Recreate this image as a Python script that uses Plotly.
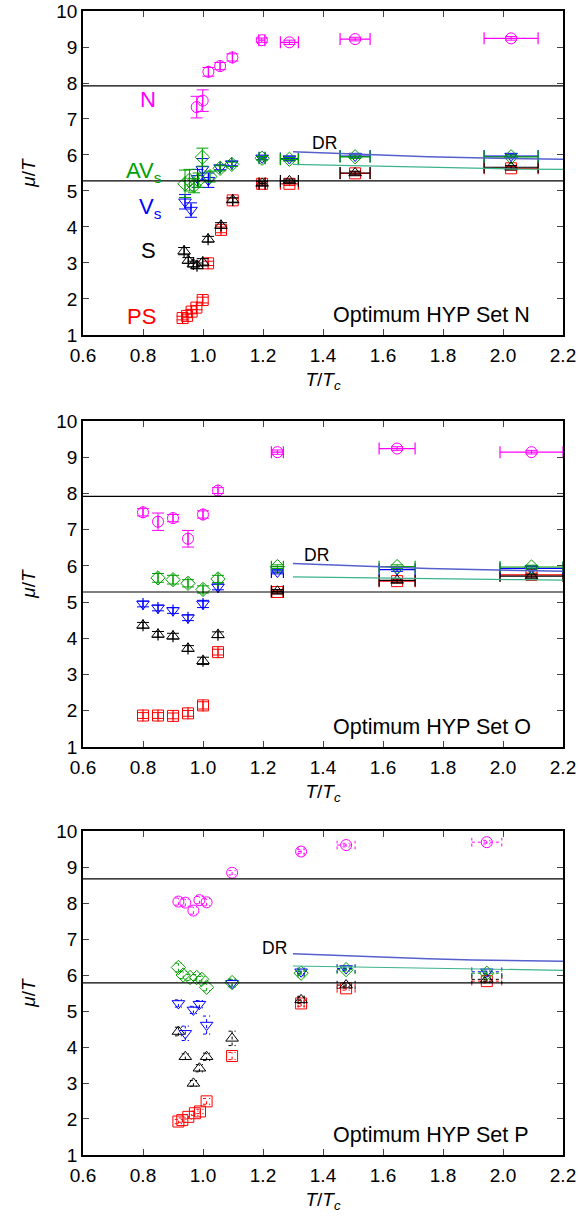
import plotly.graph_objects as go

# ---------------- Set N ----------------
n1_PS_T = [0.932, 0.947, 0.962, 0.978, 0.999, 1.017, 1.06, 1.099, 1.197, 1.288, 1.507, 2.027]
n1_PS_mu = [1.47, 1.53, 1.65, 1.76, 1.97, 2.99, 3.92, 4.74, 5.20, 5.20, 5.49, 5.63]
n1_PS_err = [0.05, 0.05, 0.06, 0.06, 0.08, 0.06, 0.08, 0.06, 0.05, 0.05, 0.05, 0.05]
n1_PS_xerr = [0, 0, 0, 0, 0, 0, 0, 0, 0.01, 0.03, 0.05, 0.09]

n1_S_T = [0.937, 0.951, 0.968, 0.98, 0.999, 1.017, 1.06, 1.099, 1.197, 1.288, 1.507, 2.027]
n1_S_mu = [3.33, 3.07, 2.97, 2.92, 3.02, 3.66, 4.04, 4.75, 5.21, 5.28, 5.50, 5.66]
n1_S_err = [0.1, 0.08, 0.08, 0.08, 0.1, 0.08, 0.08, 0.06, 0.05, 0.05, 0.05, 0.05]
n1_S_xerr = [0, 0, 0, 0, 0, 0, 0, 0, 0.01, 0.03, 0.05, 0.09]

n1_V_T = [0.94, 0.96, 0.982, 0.998, 1.018, 1.057, 1.096, 1.197, 1.288, 1.507, 2.027]
n1_V_mu = [4.70, 4.47, 5.35, 5.60, 5.30, 5.65, 5.76, 5.92, 5.90, 5.97, 5.97]
n1_V_err = [0.2, 0.2, 0.25, 0.3, 0.2, 0.06, 0.06, 0.05, 0.05, 0.05, 0.05]
n1_V_xerr = [0, 0, 0, 0, 0, 0, 0, 0.01, 0.03, 0.05, 0.09]

n1_AV_T = [0.94, 0.955, 0.97, 0.985, 0.998, 1.023, 1.057, 1.096, 1.197, 1.288, 1.507, 2.027]
n1_AV_mu = [5.20, 5.30, 5.15, 5.30, 5.94, 5.40, 5.63, 5.74, 5.91, 5.88, 5.95, 5.95]
n1_AV_err = [0.38, 0.3, 0.2, 0.2, 0.25, 0.15, 0.07, 0.06, 0.05, 0.05, 0.05, 0.05]
n1_AV_xerr = [0, 0, 0, 0, 0, 0, 0, 0, 0.01, 0.03, 0.05, 0.09]

n1_N_T = [0.979, 0.999, 1.018, 1.057, 1.098, 1.196, 1.288, 1.507, 2.027]
n1_N_mu = [7.33, 7.51, 8.31, 8.47, 8.71, 9.19, 9.13, 9.22, 9.24]
n1_N_err = [0.3, 0.3, 0.12, 0.1, 0.1, 0.06, 0.06, 0.05, 0.05]
n1_N_xerr = [0, 0, 0, 0, 0, 0.01, 0.03, 0.05, 0.09]

# ---------------- Set O ----------------
o_T = [0.8, 0.85, 0.9, 0.95, 1.0, 1.05, 1.248, 1.647, 2.095]
o_xerr = [0, 0, 0, 0, 0, 0, 0.02, 0.06, 0.105]
o_PS_mu = [1.87, 1.87, 1.86, 1.93, 2.15, 3.62, 5.28, 5.58, 5.75]
o_S_mu = [4.36, 4.11, 4.06, 3.72, 3.38, 4.10, 5.30, 5.60, 5.72]
o_V_mu = [4.95, 4.84, 4.77, 4.57, 4.95, 5.42, 5.83, 5.90, 5.93]
o_AV_T = [0.85, 0.9, 0.95, 1.0, 1.05, 1.248, 1.647, 2.095]
o_AV_xerr = [0, 0, 0, 0, 0, 0.02, 0.06, 0.105]
o_AV_mu = [5.67, 5.62, 5.52, 5.35, 5.64, 5.98, 5.98, 5.97]
o_N_mu = [7.48, 7.22, 7.32, 6.75, 7.42, 8.08, 9.14, 9.24, 9.14]
o_N_err = [0.1, 0.24, 0.1, 0.23, 0.1, 0.08, 0.06, 0.05, 0.05]
o_err = [0.08, 0.08, 0.08, 0.08, 0.1, 0.08, 0.05, 0.05, 0.05]
o_AV_err = [0.12, 0.12, 0.1, 0.1, 0.1, 0.05, 0.05, 0.05]

# ---------------- Set P ----------------
p_T = [0.918, 0.941, 0.968, 0.988, 1.012, 1.097, 1.327, 1.477, 1.946]
p_xerr = [0, 0, 0, 0, 0, 0, 0.01, 0.03, 0.05]
p_N_mu = [8.04, 8.01, 7.79, 8.08, 8.02, 8.84, 9.43, 9.61, 9.69]
p_S_mu = [4.43, 3.73, 2.99, 3.41, 3.73, 4.24, 5.31, 5.72, 5.88]
p_S_err = [0.12, 0.08, 0.08, 0.1, 0.1, 0.2, 0.08, 0.05, 0.05]
p_V_mu = [5.21, 4.38, 5.03, 5.19, 4.61, 5.77, 6.09, 6.18, 6.09]
p_V_err = [0.1, 0.2, 0.1, 0.1, 0.25, 0.1, 0.05, 0.05, 0.05]
p_N_err = [0.1, 0.1, 0.1, 0.1, 0.1, 0.06, 0.05, 0.05, 0.05]
p_PS_T = [0.918, 0.931, 0.951, 0.973, 0.99, 1.012, 1.097, 1.327, 1.477, 1.946]
p_PS_xerr = [0, 0, 0, 0, 0, 0, 0, 0.01, 0.03, 0.05]
p_PS_mu = [1.93, 1.97, 2.06, 2.16, 2.21, 2.49, 3.75, 5.21, 5.63, 5.83]
p_PS_err = [0.06, 0.06, 0.06, 0.06, 0.06, 0.08, 0.1, 0.08, 0.05, 0.05]
p_AV_T = [0.918, 0.934, 0.957, 0.979, 0.996, 1.012, 1.097, 1.327, 1.477, 1.946]
p_AV_xerr = [0, 0, 0, 0, 0, 0, 0, 0.01, 0.03, 0.05]
p_AV_mu = [6.21, 6.00, 5.93, 5.93, 5.88, 5.66, 5.79, 6.05, 6.15, 6.05]
p_AV_err = [0.12, 0.1, 0.08, 0.08, 0.08, 0.1, 0.1, 0.05, 0.05, 0.05]

# ---------------- free-quark thresholds and DR curves ----------------
thr_NO = [5.28, 7.92]
thr_P = [5.78, 8.67]
dr_T = [1.3, 1.45, 1.6, 1.75, 1.9, 2.05, 2.2]
dr1_V = [6.09, 6.04, 5.99, 5.95, 5.92, 5.90, 5.88]
dr1_AV = [5.74, 5.71, 5.68, 5.65, 5.63, 5.61, 5.60]
dr2_V = [6.07, 6.02, 5.97, 5.93, 5.90, 5.87, 5.85]
dr2_AV = [5.70, 5.68, 5.66, 5.64, 5.63, 5.62, 5.61]
dr3_V = [6.59, 6.54, 6.49, 6.45, 6.42, 6.40, 6.38]
dr3_AV = [6.25, 6.23, 6.21, 6.18, 6.16, 6.14, 6.13]

set_names = ["N", "O", "P"]

MAG, GRN, BLU, BLK, RED = "#ff00ff", "#00a000", "#0000ff", "#000000", "#ff0000"
DRB, DRG = "#5560cc", "#3db38c"
FONT = "Liberation Sans, Arial, sans-serif"

fig = go.Figure()


def xa(p):
    return "x" if p == 1 else "x%d" % p


def ya(p):
    return "y" if p == 1 else "y%d" % p


def species(p, T, mu, err, xerr, symbol, color, dotted=False):
    if dotted:
        # dotted error bars drawn as line segments with caps
        xs, ys = [], []
        cy, cx = 0.012, 0.12
        for t, m, e, xe in zip(T, mu, err, xerr):
            if e > 0:
                xs += [t, t, None, t - cy, t + cy, None, t - cy, t + cy, None]
                ys += [m - e, m + e, None, m - e, m - e, None, m + e, m + e, None]
            if xe > 0:
                xs += [t - xe, t + xe, None, t - xe, t - xe, None, t + xe, t + xe, None]
                ys += [m, m, None, m - cx, m + cx, None, m - cx, m + cx, None]
        fig.add_trace(go.Scatter(x=xs, y=ys, mode="lines", xaxis=xa(p), yaxis=ya(p),
                                 line=dict(color=color, width=1, dash="dot"),
                                 showlegend=False, hoverinfo="skip"))
        fig.add_trace(go.Scatter(x=T, y=mu, mode="markers", xaxis=xa(p), yaxis=ya(p),
                                 marker=dict(symbol=symbol, size=11, color=color,
                                             line=dict(color=color, width=1)),
                                 showlegend=False))
    else:
        fig.add_trace(go.Scatter(
            x=T, y=mu, mode="markers", xaxis=xa(p), yaxis=ya(p),
            marker=dict(symbol=symbol, size=11, color=color, line=dict(color=color, width=1)),
            error_y=dict(type="data", array=err, visible=True, color=color, thickness=1, width=6),
            error_x=dict(type="data", array=xerr, visible=True, color=color, thickness=1.2, width=6),
            showlegend=False))


# Set N
species(1, n1_PS_T, n1_PS_mu, n1_PS_err, n1_PS_xerr, "square-open", RED)
species(1, n1_S_T, n1_S_mu, n1_S_err, n1_S_xerr, "triangle-up-open", BLK)
species(1, n1_V_T, n1_V_mu, n1_V_err, n1_V_xerr, "triangle-down-open", BLU)
species(1, n1_AV_T, n1_AV_mu, n1_AV_err, n1_AV_xerr, "diamond-open", GRN)
species(1, n1_N_T, n1_N_mu, n1_N_err, n1_N_xerr, "circle-open", MAG)

# Set O
species(2, o_T, o_PS_mu, o_err, o_xerr, "square-open", RED)
species(2, o_T, o_S_mu, o_err, o_xerr, "triangle-up-open", BLK)
species(2, o_T, o_V_mu, o_err, o_xerr, "triangle-down-open", BLU)
species(2, o_AV_T, o_AV_mu, o_AV_err, o_AV_xerr, "diamond-open", GRN)
species(2, o_T, o_N_mu, o_N_err, o_xerr, "circle-open", MAG)

# Set P
species(3, p_PS_T, p_PS_mu, p_PS_err, p_PS_xerr, "square-open", RED, dotted=True)
species(3, p_T, p_S_mu, p_S_err, p_xerr, "triangle-up-open", BLK, dotted=True)
species(3, p_T, p_V_mu, p_V_err, p_xerr, "triangle-down-open", BLU, dotted=True)
species(3, p_AV_T, p_AV_mu, p_AV_err, p_AV_xerr, "diamond-open", GRN, dotted=True)
species(3, p_T, p_N_mu, p_N_err, p_xerr, "circle-open", MAG, dotted=True)

# DR curves
for p, bv, av in [(1, dr1_V, dr1_AV), (2, dr2_V, dr2_AV), (3, dr3_V, dr3_AV)]:
    fig.add_trace(go.Scatter(x=dr_T, y=bv, mode="lines", xaxis=xa(p), yaxis=ya(p),
                             line=dict(color=DRB, width=1.5), showlegend=False))
    fig.add_trace(go.Scatter(x=dr_T, y=av, mode="lines", xaxis=xa(p), yaxis=ya(p),
                             line=dict(color=DRG, width=1.2), showlegend=False))

# panel geometry (fractions of plot area)
domains = [[0.7168, 1.0], [0.3566, 0.6416], [0.0, 0.2832]]
thresholds = [thr_NO, thr_NO, thr_P]

shapes = []
annotations = []
layout = {}
for i in range(3):
    p = i + 1
    sfx = "" if p == 1 else str(p)
    layout["xaxis" + sfx] = dict(
        domain=[0, 1], anchor=ya(p), range=[0.6, 2.2], dtick=0.2, tick0=0.6,
        tickformat=".1f", ticks="inside", ticklen=6, tickwidth=1, mirror="ticks",
        showline=True, linewidth=1.5, linecolor="black", showgrid=False, zeroline=False,
        automargin=False, ticklabelstandoff=2,
        tickfont=dict(size=19, family=FONT, color="black"),
        title=dict(text="<i>T</i>/<i>T<sub>c</sub></i>", font=dict(size=19, family=FONT), standoff=8))
    layout["yaxis" + sfx] = dict(
        domain=domains[i], anchor=xa(p), range=[1, 10], dtick=1,
        ticks="inside", ticklen=6, tickwidth=1, mirror="ticks",
        showline=True, linewidth=1.5, linecolor="black", showgrid=False, zeroline=False,
        automargin=False,
        tickfont=dict(size=19, family=FONT, color="black"),
        title=dict(text="<i>μ</i>/<i>T</i>", font=dict(size=19, family=FONT), standoff=16))
    for th in thresholds[i]:
        shapes.append(dict(type="line", xref=xa(p) + " domain", yref=ya(p),
                           x0=0, x1=1, y0=th, y1=th, line=dict(color="black", width=1.2)))
    annotations.append(dict(x=1.427, y=1.55, xref=xa(p), yref=ya(p),
                            text="Optimum HYP Set " + set_names[i], showarrow=False,
                            xanchor="left", yanchor="middle",
                            font=dict(size=21.5, family=FONT, color="black")))

# DR labels
annotations.append(dict(x=1.357, y=6.33, xref="x", yref="y", text="DR", showarrow=False,
                        xanchor="left", font=dict(size=17.5, family=FONT, color="black")))
annotations.append(dict(x=1.33, y=6.29, xref="x2", yref="y2", text="DR", showarrow=False,
                        xanchor="left", font=dict(size=17.5, family=FONT, color="black")))
annotations.append(dict(x=1.285, y=6.76, xref="x3", yref="y3", text="DR", showarrow=False,
                        xanchor="right", font=dict(size=17.5, family=FONT, color="black")))

# species labels in the first panel
for txt, yv, col in [("N", 7.53, MAG), ("AV<sub>s</sub>", 5.52, GRN), ("V<sub>s</sub>", 4.52, BLU),
                     ("S", 3.36, BLK), ("PS", 1.5, RED)]:
    annotations.append(dict(x=0.87 if "sub" in txt else 0.85, y=yv, xref="x", yref="y",
                            text=txt, showarrow=False, xanchor="right", yanchor="middle",
                            font=dict(size=22, family=FONT, color=col)))

fig.update_layout(
    width=578, height=1217,
    margin=dict(l=83, r=15, t=11, b=62),
    paper_bgcolor="white", plot_bgcolor="white",
    shapes=shapes, annotations=annotations,
    font=dict(family=FONT, color="black"),
    **layout)

fig.write_html("out.html")
